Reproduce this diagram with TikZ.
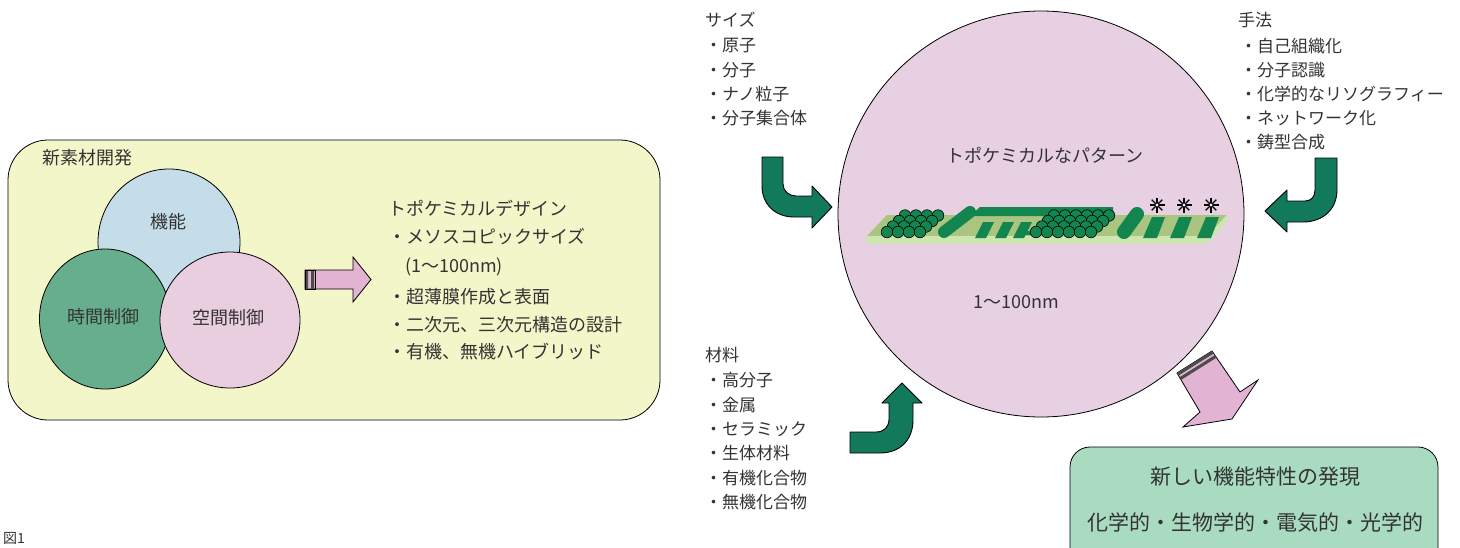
\documentclass[tikz,border=0pt]{standalone}
\usepackage{fontspec}
\setmainfont{Noto Sans CJK JP}
\usetikzlibrary{shapes.geometric}

\definecolor{boxyellow}{HTML}{F3F6C9}
\definecolor{venblue}{HTML}{C4DDE8}
\definecolor{vengreen}{HTML}{66AE8C}
\definecolor{venpink}{HTML}{E9CEE0}
\definecolor{bigpink}{HTML}{E7D0E2}
\definecolor{arrowpink}{HTML}{E2B3D2}
\definecolor{darkgreen}{HTML}{13795B}
\definecolor{rodgreen}{HTML}{138650}
\definecolor{resultgreen}{HTML}{A9DBC1}
\definecolor{slabtop}{HTML}{A9C57F}
\definecolor{slabside}{HTML}{CDE5AE}
\definecolor{txt}{HTML}{333333}

\begin{document}
\begin{tikzpicture}[x=1pt,y=-1pt,
                    every node/.style={text=txt,inner sep=0pt},
                    venn/.style={ellipse,draw=black,line width=0.8pt},
                    lbl/.style={font=\fontsize{18}{18}\selectfont},
                    item/.style={anchor=west,font=\fontsize{17}{17}\selectfont},
                    bent/.style={fill=darkgreen,draw=black,line width=0.9pt,line join=round},
                    blockarrow/.style={fill=arrowpink,draw=black,line width=0.8pt,line join=miter},
                    sphere/.style={fill=rodgreen,draw=black,line width=0.6pt},
                    rod/.style={fill=rodgreen}]
\useasboundingbox (0,0) rectangle (1460,547);
\clip (0,0) rectangle (1460,547);
\fill[white] (0,0) rectangle (1460,547);

% left panel with the three circles
\node[draw=black,fill=boxyellow,rounded corners=40pt,line width=0.8pt,
      minimum width=652pt,minimum height=280pt] (panel) at (334,280) {};
\node[lbl,anchor=west] (title) at (42,158) {新素材開発};
\node[venn,fill=venblue,minimum width=142pt,minimum height=146pt] (kino) at (169,242) {};
\node[venn,fill=vengreen,minimum width=131pt,minimum height=140pt] (jikan) at (105,319) {};
\node[venn,fill=venpink,minimum width=140pt,minimum height=136pt] (kukan) at (230,320) {};
\node[lbl] (kinolbl) at (168,222) {機能};
\node[lbl] (jikanlbl) at (103,317) {時間制御};
\node[lbl] (kukanlbl) at (228,318) {空間制御};

\filldraw[blockarrow] (305,270) -- (353,270) -- (353,257) -- (371,279.5)
      -- (353,302) -- (353,289) -- (305,289) -- cycle;
\fill[black!70] (305,270) rectangle (308,289) (311,270) rectangle (314,289);
\draw[line width=0.8pt] (305,270) rectangle (315,289);

\node[lbl,anchor=west] (design) at (388,208) {トポケミカルデザイン};
\node[lbl,anchor=west] (d1) at (388,237) {・メソスコピックサイズ};
\node[lbl,anchor=west] (d2) at (405,267) {(1〜100nm)};
\node[lbl,anchor=west] (d3) at (388,297) {・超薄膜作成と表面};
\node[lbl,anchor=west] (d4) at (388,325) {・二次元、三次元構造の設計};
\node[lbl,anchor=west] (d5) at (388,352) {・有機、無機ハイブリッド};

% the big circle and the pattern on its substrate
\node[circle,draw=black,fill=bigpink,line width=0.8pt,minimum size=406pt] (pattern) at (1041,214) {};
\node[lbl] (patlbl) at (1045,155) {トポケミカルなパターン};
\node[lbl] (size) at (1016,302) {1〜100nm};

\fill[slabtop] (867,236) -- (1207,236) -- (1227,215) -- (887,215) -- cycle;
\fill[slabside] (867,236) -- (1207,236) -- (1207,244) -- (867,244) -- cycle;
\fill[slabside] (1207,236) -- (1227,215) -- (1227,222) -- (1207,244) -- cycle;

\fill[rod] (970,216) -- (980,207) -- (1113,207) -- (1113,216) -- cycle;
\draw[rodgreen,line width=12pt,line cap=round] (944,232) -- (970,212);
\foreach \x in {975,995,1013}
  \fill[rod] (\x,238) -- (\x+11,238) -- (\x+19,222) -- (\x+8,222) -- cycle;
\fill[rod] (1018,231) rectangle (1036,235);

\foreach \r in {3,2,1,0}
  \foreach \i in {0,...,3}
    \filldraw[sphere] ({887+6*\r+11*\i},{232-5.5*\r}) circle (5.8);
\foreach \r in {3,2,1,0}
  \foreach \i in {0,...,5}
    \filldraw[sphere] ({1036+6*\r+11*\i},{232-5.5*\r}) circle (5.8);

\draw[rodgreen,line width=14pt,line cap=round] (1124,232) -- (1137,214);
\foreach \x in {1143,1170,1197} {
  \fill[rod] (\x,238) -- (\x+14,238) -- (\x+22,217) -- (\x+9,217) -- cycle;
  \foreach \a in {0,45,...,315}
    \draw[black,line width=1.3pt] (\x+14,205) -- ++(\a:7.5);
  \fill[white] (\x+14,205) circle (1.6);
}

% green bent arrows
\filldraw[bent] (762,157) -- (762,186) .. controls (762,204) and (775,217) .. (794,217)
      -- (812,217) -- (812,228) -- (832,207) -- (812,186) -- (812,196) -- (796,196)
      .. controls (789,196) and (783,191) .. (783,184) -- (783,157) -- cycle;
\filldraw[bent] (1337,158) -- (1337,190) .. controls (1337,209) and (1323,222) .. (1303,222)
      -- (1287,222) -- (1287,232) -- (1265,211) -- (1287,190) -- (1287,201) -- (1305,201)
      .. controls (1311,201) and (1315,197) .. (1315,190) -- (1315,158) -- cycle;
\filldraw[bent] (850,432) -- (876,432) .. controls (884,432) and (889,427) .. (889,419)
      -- (889,403) -- (882,403) -- (902,383) -- (922,403) -- (913,403) -- (913,420)
      .. controls (913,440) and (900,453) .. (880,453) -- (850,453) -- cycle;

% pink arrow towards the result
\filldraw[blockarrow] (1177,373) -- (1200,412) -- (1183,427) -- (1232,419)
      -- (1258,380) -- (1240,392) -- (1212,351) -- cycle;
\fill[black!70] (1177,373) -- (1212,351) -- (1213.6,353.5) -- (1178.6,375.5) -- cycle;
\fill[black!70] (1179.7,377.2) -- (1214.7,355.2) -- (1216.3,357.8) -- (1181.3,379.8) -- cycle;

% lists
\node[item] (sz) at (705,20) {サイズ};
\node[item] (sz1) at (705,46) {・原子};
\node[item] (sz2) at (705,70) {・分子};
\node[item] (sz3) at (705,94) {・ナノ粒子};
\node[item] (sz4) at (705,118) {・分子集合体};

\node[item] (mt) at (1238,20) {手法};
\node[item] (mt1) at (1240,46) {・自己組織化};
\node[item] (mt2) at (1240,70) {・分子認識};
\node[item] (mt3) at (1240,94) {・化学的なリソグラフィー};
\node[item] (mt4) at (1240,118) {・ネットワーク化};
\node[item] (mt5) at (1240,142) {・鋳型合成};

\node[item] (mat) at (705,355) {材料};
\node[item] (mat1) at (705,380) {・高分子};
\node[item] (mat2) at (705,405) {・金属};
\node[item] (mat3) at (705,429) {・セラミック};
\node[item] (mat4) at (705,453) {・生体材料};
\node[item] (mat5) at (705,478) {・有機化合物};
\node[item] (mat6) at (705,502) {・無機化合物};

% result box
\node[draw=black,fill=resultgreen,rounded corners=20pt,line width=0.8pt,
      minimum width=368pt,minimum height=130pt] (result) at (1254,512) {};
\node[font=\fontsize{21}{21}\selectfont] (res1) at (1255,477) {新しい機能特性の発現};
\node[font=\fontsize{21}{21}\selectfont] (res2) at (1255,523) {化学的・生物学的・電気的・光学的};

\node[anchor=west,font=\fontsize{14}{14}\selectfont] (fig) at (3,538) {図1};
\end{tikzpicture}
\end{document}
